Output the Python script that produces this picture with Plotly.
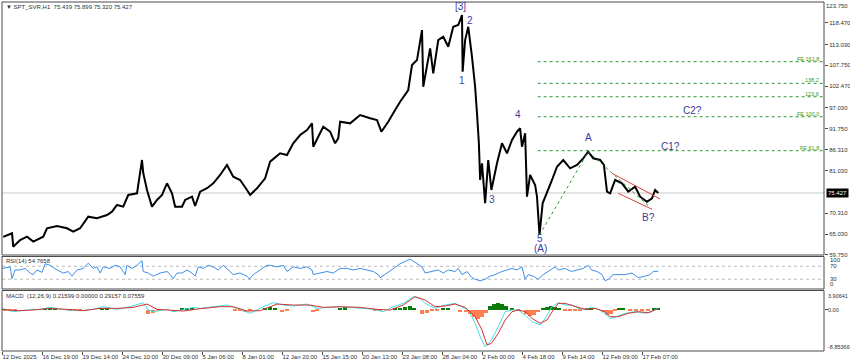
import plotly.graph_objects as go

W, H = 850, 364

# ---------------- data ----------------
# H1 bar index (0 = 12 Dec 2025 first bar) and close price
price_bar = [2, 16, 18, 29, 40, 50, 66, 72, 88, 104, 114, 125, 138, 152, 168, 176, 184, 194, 202, 216,
             224, 226, 232, 240, 248, 256, 264, 272, 277, 288, 293, 304, 309, 317, 328, 338, 349, 360, 370, 381,
             392, 397, 408, 421, 429, 445, 456, 466, 477, 488, 496, 498, 506, 514, 525, 533, 538, 541, 557, 573,
             589, 600, 607, 618, 629, 637, 650, 656, 664, 672, 674, 685, 690, 698, 706, 714, 722, 730, 736, 737,
             741, 746, 752, 757, 760, 763, 765, 768, 773, 778, 783, 792, 800, 808, 816, 824, 829, 832, 837, 840,
             845, 853, 856, 860, 865, 872, 880, 888, 898, 909, 920, 930, 938, 946, 957, 963, 968, 973, 981, 992,
             1002, 1013, 1021, 1032, 1040, 1045, 1050]
price_close = [64.30, 65.23, 61.84, 63.53, 64.37, 63.11, 64.37, 66.50, 67.08, 66.50, 65.64, 66.50, 69.43, 69.03, 69.86, 70.70, 72.39, 71.96, 74.92, 75.35,
               83.78, 80.49, 76.19, 71.96, 73.66, 74.92, 77.88, 75.35, 71.96, 71.96, 73.66, 74.49, 72.14, 75.76, 76.62, 77.88, 79.98, 82.51, 79.55, 78.72,
               76.19, 74.92, 76.62, 79.15, 83.35, 85.47, 85.04, 88.00, 90.10, 91.37, 93.06, 87.14, 89.67, 92.20, 90.94, 88.00, 89.27, 93.47, 93.06, 95.16,
               94.33, 93.90, 90.94, 93.47, 96.43, 98.53, 101.49, 107.81, 109.08, 116.67, 102.32, 112.04, 105.71, 114.14, 114.97, 112.44, 117.50, 117.93, 120.46, 106.12,
               114.14, 117.50, 109.91, 102.32, 95.59, 88.00, 78.72, 82.94, 72.82, 83.78, 76.19, 82.94, 88.00, 85.47, 88.84, 90.94, 91.80, 87.14, 90.53, 74.49,
               79.98, 77.45, 74.49, 64.80, 72.82, 75.35, 78.72, 82.08, 83.78, 81.68, 82.51, 84.20, 85.88, 84.20, 83.78, 82.51, 75.76, 75.35, 78.72, 77.88,
               75.76, 77.02, 74.49, 73.22, 74.08, 76.19, 75.427]

rsi_bar = [0, 13, 16, 21, 29, 37, 45, 50, 56, 64, 69, 77, 88, 98, 106, 112, 120, 130, 138, 146,
           152, 157, 162, 173, 181, 189, 197, 200, 208, 216, 224, 226, 234, 242, 253, 264, 269, 274, 280, 288,
           296, 304, 309, 314, 322, 330, 338, 346, 354, 362, 370, 381, 392, 396, 402, 413, 424, 429, 440, 450,
           456, 466, 477, 488, 496, 498, 509, 520, 530, 541, 552, 562, 573, 584, 594, 602, 605, 616, 626, 637,
           653, 664, 672, 677, 688, 698, 706, 714, 725, 730, 736, 744, 752, 757, 765, 773, 781, 789, 800, 808,
           816, 824, 832, 837, 842, 850, 858, 866, 874, 885, 890, 901, 911, 922, 930, 938, 943, 952, 960, 965,
           970, 978, 986, 997, 1008, 1018, 1029, 1037, 1042, 1050]
rsi_val = [63.3, 68.1, 31.9, 58.6, 58.6, 63.3, 49.1, 44.3, 58.6, 51.0, 77.6, 72.9, 58.6, 49.1, 53.8, 39.5, 58.6, 63.3, 79.5, 63.3,
           68.1, 49.1, 68.1, 63.3, 72.9, 68.1, 44.3, 72.9, 63.3, 72.9, 87.1, 53.8, 49.1, 39.5, 49.1, 53.8, 44.3, 31.9, 49.1, 49.1,
           58.6, 49.1, 39.5, 68.1, 63.3, 72.9, 68.1, 58.6, 72.9, 58.6, 44.3, 49.1, 39.5, 30.0, 44.3, 58.6, 72.9, 72.9, 68.1, 72.9,
           53.8, 68.1, 63.3, 68.1, 58.6, 44.3, 49.1, 53.8, 49.1, 63.3, 63.3, 58.6, 63.3, 58.6, 53.8, 44.3, 34.8, 49.1, 63.3, 77.6,
           91.9, 77.6, 68.1, 49.1, 53.8, 58.6, 49.1, 58.6, 53.8, 63.3, 44.3, 53.8, 34.8, 30.0, 25.3, 30.0, 39.5, 44.3, 53.8, 58.6,
           63.3, 58.6, 68.1, 30.0, 44.3, 39.5, 30.0, 44.3, 53.8, 68.1, 58.6, 63.3, 53.8, 58.6, 63.3, 72.9, 58.6, 53.8, 44.3, 25.3,
           30.0, 44.3, 44.3, 44.3, 49.1, 34.8, 39.5, 44.3, 53.8, 54.77]

macd_bar = [0, 18, 39, 61, 77, 104, 125, 146, 162, 184, 205, 226, 234, 242, 264, 274, 288, 306, 317, 338,
            360, 381, 397, 418, 434, 450, 466, 488, 504, 520, 541, 557, 573, 594, 610, 626, 642, 658, 669, 677,
            693, 709, 725, 736, 746, 757, 765, 773, 783, 794, 805, 816, 826, 837, 848, 861, 869, 880, 890, 901,
            912, 922, 933, 943, 954, 965, 973, 983, 997, 1013, 1029, 1040, 1050]
macd_val = [0.14, -0.56, -0.21, -0.07, 0.35, -0.21, -0.35, -0.07, 0.49, -0.07, 0.49, 1.34, -0.21, -0.56, -0.07, -0.56, -0.21, 0.35, 0.14, 0.49,
            0.84, -0.07, -0.91, 0.49, 1.34, 0.84, 0.63, 1.05, 0.14, 0.35, 0.49, 0.35, 0.14, -0.07, -0.56, 0.49, 1.19, 2.60, 2.25, 1.20,
            0.14, 0.84, 1.19, 0.49, -0.21, -3.02, -5.83, -7.94, -6.54, -3.72, -0.56, -0.21, -0.21, -1.26, -2.67, -3.37, -1.97, 0.49, 1.34, 0.84,
            0.84, 0.14, -0.07, 0.35, -0.07, -0.91, -1.97, -1.62, -0.91, -0.56, -0.91, -0.56, 0.29]

signal_bar = [0, 24, 50, 77, 104, 130, 157, 184, 210, 232, 248, 269, 290, 317, 349, 370, 392, 413, 440, 466,
              493, 514, 541, 573, 600, 621, 642, 661, 677, 693, 709, 725, 741, 757, 768, 776, 783, 794, 805, 816,
              826, 837, 848, 861, 872, 882, 890, 901, 917, 933, 949, 965, 973, 986, 1002, 1018, 1034, 1050]
signal_val = [-0.07, -0.35, -0.21, 0.14, -0.07, -0.35, 0.14, 0.14, 0.35, 1.05, -0.07, -0.21, -0.42, 0.07, 0.49, 0.49, -0.42, -0.35, 1.05, 0.84,
              0.84, 0.35, 0.49, 0.35, -0.07, -0.21, 0.84, 2.60, 1.90, 0.49, 0.63, 1.05, 0.35, -1.62, -4.43, -7.59, -7.24, -5.13, -2.32, -0.56,
              -0.21, -0.56, -1.97, -3.02, -2.32, -0.21, 1.19, 1.19, 0.49, -0.07, 0.14, -0.56, -1.62, -1.62, -0.91, -0.56, -0.77, 0.08]

hist_bar = [5, 13, 21, 69, 77, 85, 109, 117, 125, 160, 168, 234, 242, 250, 275, 288, 296, 304, 373, 381,
            389, 397, 421, 429, 437, 448, 456, 498, 504, 541, 549, 597, 605, 629, 637, 645, 653, 659, 672, 680,
            688, 696, 706, 714, 733, 742, 749, 755, 762, 768, 774, 781, 787, 794, 800, 806, 816, 826, 838, 845,
            851, 858, 866, 872, 878, 885, 891, 901, 909, 917, 925, 936, 942, 962, 968, 974, 981, 987, 994, 1005,
            1014, 1024, 1034, 1043, 1050]
hist_val = [-0.2, -0.2, -0.2, 0.2, 0.2, 0.2, -0.2, -0.2, -0.2, 0.2, 0.2, -0.9, -0.8, -0.4, -0.6, 0.3, 0.3, 0.2, -0.4, -0.4,
            -0.5, -0.3, 0.3, 0.5, 0.4, -0.5, -0.4, -0.6, -0.3, 0.4, 0.5, -0.4, -0.3, 0.3, 0.4, 0.6, 0.8, 0.4, -1.0, -0.8,
            -0.4, -0.3, 0.2, 0.2, -0.5, -0.6, -1.0, -1.5, -2.0, -1.6, -0.8, 0.8, 1.2, 1.3, 1.1, 0.8, 0.2, -0.2, -1.0, -1.3,
            -1.1, -0.5, 0.4, 0.6, 0.7, 0.5, 0.3, -0.3, -0.3, -0.2, -0.2, 0.4, 0.3, -0.5, -1.2, -1.0, -0.4, 0.3, 0.3, -0.2,
            -0.3, -0.3, -0.2, 0.3, 0.4]

time_tick_bars = [0, 64, 128, 192, 256, 320, 384, 448, 512, 576, 640, 704, 768, 832, 896, 960, 1024]
time_tick_labels = ["12 Dec 2025", "16 Dec 19:00", "19 Dec 14:00", "24 Dec 10:00", "30 Dec 09:00", "5 Jan 06:00",
                    "8 Jan 01:00", "12 Jan 20:00", "15 Jan 15:00", "20 Jan 13:00", "23 Jan 08:00", "28 Jan 04:00",
                    "2 Feb 00:00", "4 Feb 18:00", "9 Feb 14:00", "12 Feb 09:00", "17 Feb 07:00"]

price_ticks = [123.75, 118.47, 113.03, 107.75, 102.47, 97.03, 91.75, 86.31, 81.03, 70.31, 65.03, 59.75]
price_min, price_max = 59.75, 123.75
last_price = 75.427
macd_min, macd_max = -8.85366, 3.90641

fib_levels = [108.65, 103.18, 99.79, 94.73, 86.13]
fib_labels = ["FE 161.8", "138.2", "123.6", "FE 100.0", "FE 61.8"]
fib_start_bar = 857
fib_leg_bars = [860, 938, 1034]
fib_leg_prices = [64.80, 85.88, 72.23]

channel_upper_bars = [976, 1053]
channel_upper_prices = [80.41, 73.91]
channel_lower_bars = [986, 1040]
channel_lower_prices = [75.35, 71.30]

wave_labels = ["[3]", "2", "1", "3", "4", "5", "(A)", "A", "C1?", "C2?", "B?"]
wave_bars = [734, 749, 736, 784, 826, 861, 861, 938, 1070, 1104, 1034]
wave_prices = [122.7, 119.2, 104.0, 73.9, 95.2, 64.0, 61.5, 89.5, 87.3, 96.2, 69.1]

header_text = "\u25bc SPT_SVR,H1  75.439 75.899 75.320 75.427"
rsi_text = "RSI(14) 54.7658"
macd_text = "MACD  (12,26,9) 0.21599 0.00000 0.29157 0.07559"

# ---------------- layout geometry ----------------
FONT = "Liberation Sans"
def py(p):
    return 1 - p / H
def px(p):
    return p / W

PLOT_L, PLOT_R = 2, 824
MAIN_T, MAIN_B = 2, 255
RSI_T, RSI_B = 256.5, 289
MACD_T, MACD_B = 290.5, 351
BARS_PER_PX = 1.6
XR = [0, (PLOT_R - PLOT_L) * BARS_PER_PX]
EDGE_PAD = 0.02

WAVE_COLOR = "#3c3c9a"
FIB_COLOR = "#2f9a2f"
AXIS_COLOR = "#4a4a4a"
TXT = "#303030"

# the tick sitting on the very top edge is drawn as an annotation (plotly culls it)
axis_ticks = [v for v in price_ticks if v < price_max]
edge_ticks = [v for v in price_ticks if v >= price_max]

fig = go.Figure()

fig.add_trace(go.Scatter(x=price_bar, y=price_close, mode="lines",
                         line=dict(color="black", width=2), xaxis="x", yaxis="y", hoverinfo="skip"))
fig.add_trace(go.Scatter(x=fib_leg_bars, y=fib_leg_prices, mode="lines",
                         line=dict(color=FIB_COLOR, width=1, dash="dot"), xaxis="x", yaxis="y"))
fig.add_trace(go.Scatter(x=channel_upper_bars, y=channel_upper_prices, mode="lines",
                         line=dict(color="#e04040", width=1), xaxis="x", yaxis="y"))
fig.add_trace(go.Scatter(x=channel_lower_bars, y=channel_lower_prices, mode="lines",
                         line=dict(color="#e04040", width=1), xaxis="x", yaxis="y"))
fig.add_trace(go.Scatter(x=rsi_bar, y=rsi_val, mode="lines",
                         line=dict(color="#3d8ee8", width=1), xaxis="x2", yaxis="y2"))
fig.add_trace(go.Bar(x=hist_bar, y=hist_val, width=7,
                     marker=dict(color=["#0a7a0a" if v >= 0 else "#ff7f50" for v in hist_val], line=dict(width=0)),
                     xaxis="x3", yaxis="y3"))
fig.add_trace(go.Scatter(x=macd_bar, y=macd_val, mode="lines",
                         line=dict(color="#40e0e8", width=1), xaxis="x3", yaxis="y3"))
fig.add_trace(go.Scatter(x=signal_bar, y=signal_val, mode="lines",
                         line=dict(color="#d83030", width=1), xaxis="x3", yaxis="y3"))

shapes = []
for t, b in [(MAIN_T, MAIN_B), (RSI_T, RSI_B), (MACD_T, MACD_B)]:
    shapes.append(dict(type="rect", xref="paper", yref="paper", x0=px(PLOT_L), x1=px(PLOT_R),
                       y0=py(b), y1=py(t), line=dict(color=AXIS_COLOR, width=1), layer="above"))
shapes.append(dict(type="line", xref="x", yref="y", x0=XR[0], x1=XR[1], y0=last_price, y1=last_price,
                   line=dict(color="#c8c8c8", width=1), layer="below"))
for lv in fib_levels:
    shapes.append(dict(type="line", xref="x", yref="y", x0=fib_start_bar, x1=XR[1], y0=lv, y1=lv,
                       line=dict(color=FIB_COLOR, width=1, dash="dot"), layer="below"))
for lv in (70, 30):
    shapes.append(dict(type="line", xref="x2", yref="y2", x0=XR[0], x1=XR[1], y0=lv, y1=lv,
                       line=dict(color="#bdbdbd", width=1, dash="dot"), layer="below"))

ann = []
small = dict(family=FONT, size=6, color=TXT)
tiny = dict(family=FONT, size=5.5, color=TXT)
for v in edge_ticks:
    ann.append(dict(text=f"{v:.3f}", xref="paper", yref="y", x=px(849), y=v, xanchor="right",
                    yanchor="middle", yshift=-4, borderpad=0, showarrow=False, font=small))
ann.append(dict(text=header_text, xref="paper", yref="paper", x=px(4), y=py(7), xanchor="left",
                yanchor="middle", showarrow=False, font=small))
ann.append(dict(text=rsi_text, xref="paper", yref="paper", x=px(4), y=py(261), xanchor="left",
                yanchor="middle", showarrow=False, font=small))
ann.append(dict(text=macd_text, xref="paper", yref="paper", x=px(4), y=py(295.5), xanchor="left",
                yanchor="middle", showarrow=False, font=small))
for t, b, p in zip(wave_labels, wave_bars, wave_prices):
    ann.append(dict(text=t, xref="x", yref="y", x=b, y=p, showarrow=False,
                    font=dict(family=FONT, size=10, color=WAVE_COLOR)))
for lv, t in zip(fib_levels, fib_labels):
    ann.append(dict(text=t, xref="paper", yref="y", x=px(821), y=lv, xanchor="right", yanchor="bottom",
                    yshift=-2, showarrow=False, font=dict(family=FONT, size=5.5, color=FIB_COLOR)))
ann.append(dict(text=f"{last_price:.3f}", xref="paper", yref="y", x=px(826), y=last_price, xanchor="left",
                yanchor="middle", showarrow=False, bgcolor="black", borderpad=1,
                font=dict(family=FONT, size=6, color="white")))
for v, sh in [(100, -3.5), (70, 0), (30, 0), (0, 5)]:
    ann.append(dict(text=str(v), xref="paper", yref="y2", x=px(828), y=v, xanchor="left", yanchor="middle",
                    yshift=sh, showarrow=False, font=small))
for v, t, sh in [(macd_max, "3.90641", -5.5), (0, "0.00", -1), (macd_min, "-8.85366", 4)]:
    ann.append(dict(text=t, xref="paper", yref="y3", x=px(826), y=v, xanchor="left", yanchor="middle",
                    yshift=sh, showarrow=False, font=tiny))

xcommon = dict(range=XR, domain=[px(PLOT_L), px(PLOT_R)], showgrid=False, zeroline=False,
               showline=False, fixedrange=True)
fig.update_layout(
    width=W, height=H, margin=dict(l=0, r=0, t=0, b=0, autoexpand=False),
    paper_bgcolor="white", plot_bgcolor="white", showlegend=False, bargap=0,
    xaxis=dict(**xcommon, anchor="y", showticklabels=False),
    xaxis2=dict(**xcommon, anchor="y2", showticklabels=False, matches="x"),
    xaxis3=dict(**xcommon, anchor="y3", matches="x", tickmode="array", tickvals=time_tick_bars,
                ticktext=time_tick_labels, ticks="outside", ticklen=3, tickcolor=AXIS_COLOR,
                ticklabelposition="outside right", tickangle=0, tickfont=small),
    yaxis=dict(domain=[py(MAIN_B), py(MAIN_T)], range=[price_min - EDGE_PAD, price_max + EDGE_PAD],
               anchor="x", side="right",
               tickmode="array", tickvals=axis_ticks, ticktext=[f"{v:.3f}" for v in axis_ticks],
               ticks="outside", ticklen=3, tickcolor=AXIS_COLOR, tickfont=small,
               showgrid=False, zeroline=False, fixedrange=True),
    yaxis2=dict(domain=[py(RSI_B), py(RSI_T)], range=[0, 100], anchor="x2", showticklabels=False,
                showgrid=False, zeroline=False, fixedrange=True),
    yaxis3=dict(domain=[py(MACD_B), py(MACD_T)], range=[macd_min, macd_max], anchor="x3", side="right",
                showticklabels=False, tickmode="array", tickvals=[0], ticks="outside", ticklen=3,
                tickcolor=AXIS_COLOR, showgrid=False, zeroline=False, fixedrange=True),
    shapes=shapes, annotations=ann,
)

fig.write_html("out.html", config={"displayModeBar": False},
               post_script="document.body.style.margin='0';document.body.style.overflow='hidden';")
